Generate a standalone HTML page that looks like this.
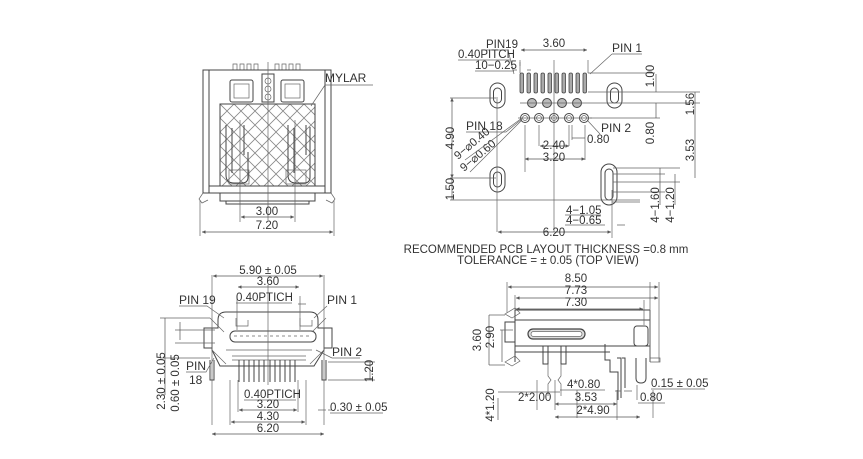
<!DOCTYPE html>
<html><head><meta charset="utf-8"><style>
html,body{margin:0;padding:0;background:#fff;}
svg{display:block}
text{font-family:"Liberation Sans",sans-serif;font-size:11.5px;fill:#333;}
.l{stroke:#444;stroke-width:1;fill:none}
.t{stroke:#666;stroke-width:0.7;fill:none}
.d{stroke:#555;stroke-width:0.7;fill:none}
</style></head><body>
<svg width="863" height="459" viewBox="0 0 863 459" xmlns="http://www.w3.org/2000/svg">
<defs>
<pattern id="h" width="14" height="14" patternUnits="userSpaceOnUse" x="220" y="104">
<path d="M0 0L14 14M14 0L0 14" stroke="#888" stroke-width="0.8"/>
</pattern>
<marker id="a" viewBox="0 0 6 6" refX="6" refY="3" markerWidth="5" markerHeight="5" orient="auto-start-reverse"><path d="M0 0L6 3L0 6z" fill="#555"/></marker>
</defs>

<!-- ========== TOP LEFT ========== -->
<g>
<g class="t">
<path d="M233 70V64h4v6M240 70V64h4v6M247 70V64h4v6M254 70V64h4v6M275 70V64h4v6M282 70V64h4v6M289 70V64h4v6M296 70V64h4v6"/>
</g>
<rect x="203" y="70" width="128" height="123" class="l"/>
<path d="M209 70V193M325 70V193" class="l"/>
<rect x="220" y="104" width="95" height="82" style="fill:url(#h);stroke:#444;stroke-width:1"/>
<rect x="230" y="80" width="23" height="22" rx="2" class="l"/>
<rect x="234" y="84" width="15" height="14" class="t"/>
<rect x="281" y="80" width="23" height="22" rx="2" class="l"/>
<rect x="285" y="84" width="15" height="14" class="t"/>
<rect x="262" y="74" width="12" height="28" class="l"/>
<circle cx="268" cy="81" r="3" class="t"/><circle cx="268" cy="89" r="3" class="t"/><circle cx="268" cy="97" r="3" class="t"/>
<path d="M226 125v50q0 8 8 8h8q6 0 6-6v-25M244 125v30M232 128v45" class="l"/>
<path d="M288 125v50q0 8 8 8h8q6 0 6-6v-50M306 125v30M294 128v45" class="l"/>
<rect x="229" y="170" width="20" height="14" class="t"/>
<rect x="286" y="170" width="20" height="14" class="t"/>
<path d="M209 186H325M209 193H325M220 193v8h95v-8M226 201v3h83v-3" class="l"/>
<path d="M203 193l-4 6l3 4l6-3M331 193l4 6l-3 4l-6-3" class="t"/>
<path d="M268 62V220M240 120V222M295 120V222" class="t"/>
<path d="M200 200V236M334 200V236" class="t"/>
<line x1="241" y1="217" x2="294" y2="217" class="d" marker-start="url(#a)" marker-end="url(#a)"/>
<line x1="202" y1="232" x2="333" y2="232" class="d" marker-start="url(#a)" marker-end="url(#a)"/>
<text x="267" y="215" text-anchor="middle">3.00</text>
<text x="267" y="229" text-anchor="middle">7.20</text>
<text x="325" y="82" style="font-size:12px">MYLAR</text>
<path d="M325 85H373M325 85L311 106" class="t"/>
</g>

<!-- ========== TOP RIGHT ========== -->
<g>
<g style="fill:#aaa;stroke:#444;stroke-width:0.8">
<rect x="520" y="73" width="3.5" height="20" rx="1.5"/><rect x="527" y="73" width="3.5" height="20" rx="1.5"/>
<rect x="534" y="73" width="3.5" height="20" rx="1.5"/><rect x="541" y="73" width="3.5" height="20" rx="1.5"/>
<rect x="548" y="73" width="3.5" height="20" rx="1.5"/><rect x="555" y="73" width="3.5" height="20" rx="1.5"/>
<rect x="562" y="73" width="3.5" height="20" rx="1.5"/><rect x="569" y="73" width="3.5" height="20" rx="1.5"/>
<rect x="576" y="73" width="3.5" height="20" rx="1.5"/><rect x="583" y="73" width="3.5" height="20" rx="1.5"/>
</g>
<g class="l">
<rect x="490" y="83" width="15" height="25" rx="7.5"/><rect x="493.5" y="88" width="8" height="15" rx="4"/>
<rect x="607" y="83" width="15" height="25" rx="7.5"/><rect x="610.5" y="88" width="8" height="15" rx="4"/>
<rect x="490" y="167" width="15" height="25" rx="7.5"/><rect x="493.5" y="172" width="8" height="15" rx="4"/>
<rect x="601" y="164" width="16" height="41" rx="8"/><rect x="605" y="169" width="8" height="31" rx="4"/>
</g>
<g style="fill:#bbb;stroke:#444;stroke-width:1">
<circle cx="532" cy="103" r="4.5"/><circle cx="547" cy="103" r="4.5"/><circle cx="562" cy="103" r="4.5"/><circle cx="577" cy="103" r="4.5"/>
</g>
<g class="l">
<circle cx="525" cy="118" r="4.5"/><circle cx="539" cy="118" r="4.5"/><circle cx="554" cy="118" r="4.5"/><circle cx="569" cy="118" r="4.5"/><circle cx="584" cy="118" r="4.5"/>
</g>
<g class="t">
<circle cx="525" cy="118" r="2.5"/><circle cx="539" cy="118" r="2.5"/><circle cx="554" cy="118" r="2.5"/><circle cx="569" cy="118" r="2.5"/><circle cx="584" cy="118" r="2.5"/>
<path d="M520 103H590M518 118H592"/>
</g>
<path d="M554 60V232M497 97V232M612 190V238M520 60V73M588 60V73" class="t"/>
<path d="M588 73H655M588 92H660M620 92H700M590 103H700M590 118H660M496 98H450M496 178H450M450 200H640M613 168H680M613 174H665M613 182H680M613 192H665M612 202H640" class="t"/>
<path d="M525 125V172M585 125V160M539 125V146M569 125V146M572 125V140M585 125V140" class="t"/>
<line x1="521" y1="50" x2="587" y2="50" class="d" marker-start="url(#a)" marker-end="url(#a)"/>
<path d="M517 70h-4M527 70h4M520 66v-4" class="t"/>
<line x1="656" y1="74" x2="656" y2="92" class="d"/>
<line x1="695" y1="92" x2="695" y2="118" class="d"/>
<line x1="656" y1="103" x2="656" y2="118" class="d"/>
<line x1="695" y1="118" x2="695" y2="178" class="d"/>
<line x1="452" y1="98" x2="452" y2="178" class="d" marker-start="url(#a)" marker-end="url(#a)"/>
<line x1="452" y1="178" x2="452" y2="200" class="d"/>
<line x1="540" y1="146" x2="569" y2="146" class="d" marker-start="url(#a)" marker-end="url(#a)"/>
<line x1="525" y1="159" x2="585" y2="159" class="d" marker-start="url(#a)" marker-end="url(#a)"/>
<line x1="572" y1="138" x2="585" y2="138" class="d"/>
<line x1="498" y1="232" x2="611" y2="232" class="d" marker-start="url(#a)" marker-end="url(#a)"/>
<line x1="660" y1="168" x2="660" y2="205" class="d"/>
<line x1="675" y1="174" x2="675" y2="205" class="d"/>
<path d="M565 215H601M565 225H605M617 225H625" class="t"/>
<text x="486" y="48">PIN19</text>
<path d="M486 50H508L514 74" class="t"/>
<text x="458" y="58">0.40PITCH</text>
<path d="M458 60H510" class="t"/>
<text x="475" y="69">10−0.25</text>
<path d="M475 71H514" class="t"/>
<text x="554" y="47" text-anchor="middle">3.60</text>
<text x="612" y="52" style="font-size:12px">PIN 1</text>
<path d="M612 54H642M612 54L590 74" class="t"/>
<text x="466" y="130" style="font-size:12px">PIN 18</text>
<path d="M466 132H506L522 119" class="t"/>
<text transform="translate(458 160) rotate(-40)">9−⌀0.40</text>
<text transform="translate(464 172) rotate(-40)">9−⌀0.60</text>
<path d="M465 160L522 118M470 172L522 120" class="t"/>
<text x="601" y="132" style="font-size:12px">PIN 2</text>
<path d="M600 134L588 121" class="t"/>
<text x="587" y="143">0.80</text>
<text x="554" y="149" text-anchor="middle">2.40</text>
<text x="554" y="161" text-anchor="middle">3.20</text>
<text x="566" y="214">4−1.05</text>
<text x="566" y="224">4−0.65</text>
<text x="554" y="236" text-anchor="middle">6.20</text>
<text transform="translate(454 138) rotate(-90)" text-anchor="middle">4.90</text>
<text transform="translate(454 189) rotate(-90)" text-anchor="middle">1.50</text>
<text transform="translate(654 76) rotate(-90)" text-anchor="middle">1.00</text>
<text transform="translate(694 104) rotate(-90)" text-anchor="middle">1.56</text>
<text transform="translate(654 133) rotate(-90)" text-anchor="middle">0.80</text>
<text transform="translate(694 150) rotate(-90)" text-anchor="middle">3.53</text>
<text transform="translate(659 205) rotate(-90)" text-anchor="middle">4−1.60</text>
<text transform="translate(674 205) rotate(-90)" text-anchor="middle">4−1.20</text>
<text x="546" y="253" text-anchor="middle">RECOMMENDED PCB LAYOUT THICKNESS =0.8 mm</text>
<text x="548" y="264" text-anchor="middle">TOLERANCE = ± 0.05 (TOP VIEW)</text>
</g>

<!-- ========== BOTTOM LEFT ========== -->
<g>
<path d="M218 320q0-8 8-8h84q8 0 8 8v8h6v22l-10 16H220l-8-16V328h6z" class="l"/>
<path d="M212 328h-8v20h8M324 328h8v20h-8" class="l"/>
<path d="M236 318v8h12v-6M300 318v8h12v-6" class="t"/>
<rect x="230" y="331" width="86" height="11" rx="5" class="l"/>
<path d="M234 336H312" class="t" stroke-dasharray="3 3"/>
<path d="M226 350H312M232 356H306M232 360H306" class="t"/>
<path d="M210 318l14 14M326 318l-14 14M212 350l14 14M324 350l-14 14" class="t"/>
<g class="l">
<path d="M239 360v22M244 360v22M249 360v22M254 360v22M259 360v22M264 360v22M270 360v22M275 360v22M280 360v22M285 360v22M290 360v22M295 360v22"/>
<path d="M210 360v20h4v-20M322 360v20h4v-20"/>
</g>
<path d="M268 285V385M212 275V425M324 275V425M230 380V425M306 380V425M238 380V412M298 380V412M237 296V330M300 296V330" class="t"/>
<line x1="213" y1="276" x2="323" y2="276" class="d" marker-start="url(#a)" marker-end="url(#a)"/>
<line x1="238" y1="287" x2="299" y2="287" class="d" marker-start="url(#a)" marker-end="url(#a)"/>
<line x1="239" y1="410" x2="297" y2="410" class="d" marker-start="url(#a)" marker-end="url(#a)"/>
<line x1="231" y1="422" x2="305" y2="422" class="d" marker-start="url(#a)" marker-end="url(#a)"/>
<line x1="212" y1="434" x2="324" y2="434" class="d" marker-start="url(#a)" marker-end="url(#a)"/>
<path d="M160 318H210M175 330H215M175 343H215M160 358H210M328 362H375M328 380H375" class="t"/>
<line x1="165" y1="318" x2="165" y2="395" class="d"/>
<line x1="180" y1="322" x2="180" y2="340" class="d"/>
<line x1="370" y1="362" x2="370" y2="380" class="d"/>
<path d="M318 410h8M328 410h4" class="t"/>
<text x="268" y="274" text-anchor="middle">5.90 ± 0.05</text>
<text x="268" y="285" text-anchor="middle">3.60</text>
<text x="236" y="301">0.40PTICH</text>
<path d="M236 303H292M298 304h8" class="t"/>
<text x="179" y="304" style="font-size:12px">PIN 19</text>
<path d="M179 306H207L224 318" class="t"/>
<text x="327" y="304" style="font-size:12px">PIN 1</text>
<path d="M327 306L314 318" class="t"/>
<text x="332" y="356" style="font-size:12px">PIN 2</text>
<path d="M332 358H360M332 358L316 350" class="t"/>
<text x="186" y="370" style="font-size:12px">PIN</text>
<text x="189" y="384" style="font-size:12px">18</text>
<path d="M186 372H206L214 358" class="t"/>
<text x="244" y="398">0.40PTICH</text>
<path d="M244 400H296" class="t"/>
<text x="268" y="408" text-anchor="middle">3.20</text>
<text x="268" y="420" text-anchor="middle">4.30</text>
<text x="268" y="432" text-anchor="middle">6.20</text>
<text x="330" y="411">0.30 ± 0.05</text>
<path d="M330 413H383" class="t"/>
<text transform="translate(165 381) rotate(-90)" text-anchor="middle">2.30 ± 0.05</text>
<text transform="translate(179 383) rotate(-90)" text-anchor="middle">0.60 ± 0.05</text>
<text transform="translate(373 371) rotate(-90)" text-anchor="middle">1.20</text>
</g>

<!-- ========== BOTTOM RIGHT ========== -->
<g>
<path d="M515 310H650M515 320H650M515 346H650M515 352H610" class="l"/>
<path d="M515 310V362M650 310V362" class="l"/>
<path d="M505 314l10-6l5 5l-8 5zM505 362l10-6l5 5l-8 5z" class="t"/>
<rect x="505" y="322" width="10" height="20" class="l"/>
<rect x="528" y="329" width="57" height="10" rx="5" style="fill:#ddd;stroke:#444;stroke-width:1.2"/>
<rect x="531" y="331.5" width="51" height="5" rx="2.5" style="fill:#fff;stroke:#666;stroke-width:0.7"/>
<rect x="634" y="326" width="14" height="20" rx="3" class="l"/>
<path d="M543 346v18h5v-18M561 346v18h5v-18" class="l"/>
<path d="M548 364v12l3 4l-3 4v12M561 364v12l-3 4l3 4v12" class="t"/>
<path d="M605 344v16h5v12h8v28" class="l"/>
<path d="M617 358h4v40M622 358h3v30" class="l"/>
<path d="M636 358v20q0 5 5 5t5-5v-20" class="l"/>
<path d="M650 358h10v4h-10" class="t"/>
<path d="M507 282V313M515 295V310M650 282V362M659 282V362M644 300V325M489 315H505M489 365H505M500 330H513M498 392H560M537 380V410M555 380V410M577 390V418M617 390V420M653 390V418M637 385V400" class="t"/>
<line x1="508" y1="287" x2="658" y2="287" class="d" marker-start="url(#a)" marker-end="url(#a)"/>
<line x1="516" y1="298" x2="658" y2="298" class="d" marker-start="url(#a)" marker-end="url(#a)"/>
<line x1="516" y1="309" x2="643" y2="309" class="d" marker-start="url(#a)" marker-end="url(#a)"/>
<line x1="489" y1="315" x2="489" y2="365" class="d"/>
<line x1="502" y1="330" x2="502" y2="362" class="d"/>
<line x1="498" y1="398" x2="498" y2="420" class="d"/>
<line x1="555" y1="404" x2="617" y2="404" class="d" marker-start="url(#a)" marker-end="url(#a)"/>
<line x1="555" y1="417" x2="640" y2="417" class="d" marker-start="url(#a)" marker-end="url(#a)"/>
<path d="M615 391h6M624 391h8" class="t"/>
<text x="576" y="282" text-anchor="middle">8.50</text>
<text x="576" y="294" text-anchor="middle">7.73</text>
<text x="576" y="306" text-anchor="middle">7.30</text>
<text x="567" y="388">4*0.80</text>
<path d="M560 390H605" class="t"/>
<text x="518" y="401">2*2.00</text>
<text x="586" y="401" text-anchor="middle">3.53</text>
<text x="651" y="387">0.15 ± 0.05</text>
<path d="M651 389H705" class="t"/>
<text x="640" y="401">0.80</text>
<path d="M638 403H665" class="t"/>
<text x="593" y="414" text-anchor="middle">2*4.90</text>
<text transform="translate(481 340) rotate(-90)" text-anchor="middle">3.60</text>
<text transform="translate(494 337) rotate(-90)" text-anchor="middle">2.90</text>
<text transform="translate(494 405) rotate(-90)" text-anchor="middle">4*1.20</text>
</g>
</svg>
</body></html>
